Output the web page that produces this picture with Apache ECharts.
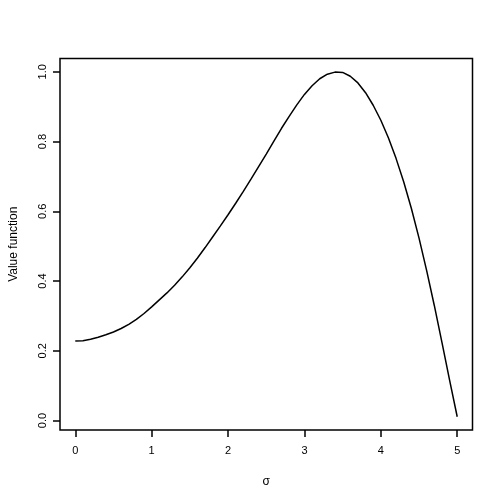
<!DOCTYPE html>
<html>
<head>
<meta charset="utf-8">
<script src="https://cdn.jsdelivr.net/npm/echarts@6/dist/echarts.min.js"></script>
<style>html,body{margin:0;padding:0;background:#fff}#c{width:503px;height:503px}</style>
</head>
<body>
<div id="c"></div>
<script>
const sigma = [0.0,0.1,0.2,0.3,0.4,0.5,0.6,0.7,0.8,0.9,1.0,1.1,1.2,1.3,1.4,1.5,1.6,1.7,1.8,1.9,2.0,2.1,2.2,2.3,2.4,2.5,2.6,2.7,2.8,2.9,3.0,3.1,3.2,3.3,3.4,3.5,3.6,3.7,3.8,3.9,4.0,4.1,4.2,4.3,4.4,4.5,4.6,4.7,4.8,4.9,5.0];
const valueFn = [0.228,0.229,0.233,0.239,0.246,0.254,0.264,0.276,0.290,0.307,0.326,0.346,0.366,0.388,0.412,0.438,0.466,0.496,0.527,0.558,0.590,0.623,0.657,0.692,0.728,0.764,0.801,0.838,0.872,0.905,0.935,0.960,0.980,0.993,0.999,0.998,0.987,0.968,0.940,0.904,0.861,0.810,0.751,0.684,0.608,0.523,0.430,0.330,0.224,0.116,0.011];
const xTicks = [0,1,2,3,4,5];
const yTicks = [0.0,0.2,0.4,0.6,0.8,1.0];
const yTickLabels = ['0.0','0.2','0.4','0.6','0.8','1.0'];

const chart = echarts.init(document.getElementById('c'), null, {renderer:'canvas'});
const font = 'Liberation Sans, Arial, sans-serif';
chart.setOption({
  animation:false,
  backgroundColor:'#fff',
  grid:{left:58.5,right:30.5,top:58.5,bottom:73,show:true,borderColor:'#000',borderWidth:1.5,backgroundColor:'transparent'},
  xAxis:{
    type:'value',min:-0.2,max:5.2,
    name:'σ',nameLocation:'middle',nameGap:46,
    nameTextStyle:{color:'#000',fontFamily:font,fontSize:12},
    axisLine:{show:false,onZero:false},
    splitLine:{show:false},
    axisTick:{show:true,inside:false,length:7,lineStyle:{color:'#000',width:1.5},customValues:xTicks},
    axisLabel:{color:'#000',fontFamily:font,fontSize:11,margin:15,customValues:xTicks,formatter:v=>String(v)}
  },
  yAxis:{
    type:'value',min:-0.027,max:1.038,
    name:'Value function',nameLocation:'middle',nameGap:40,nameRotate:90,
    nameTextStyle:{color:'#000',fontFamily:font,fontSize:12},
    axisLine:{show:false,onZero:false},
    splitLine:{show:false},
    axisTick:{show:true,inside:false,length:7,lineStyle:{color:'#000',width:1.5},customValues:yTicks},
    axisLabel:{color:'#000',fontFamily:font,fontSize:11,margin:12,rotate:90,customValues:yTicks,
      formatter:v=>{const i=yTicks.findIndex(t=>Math.abs(t-v)<1e-9);return i>=0?yTickLabels[i]:v.toFixed(1);}}
  },
  series:[{
    type:'line',
    data:sigma.map((s,i)=>[s,valueFn[i]]),
    showSymbol:false,
    smooth:false,
    lineStyle:{color:'#000',width:1.5},
    clip:false
  }]
});
</script>
</body>
</html>
